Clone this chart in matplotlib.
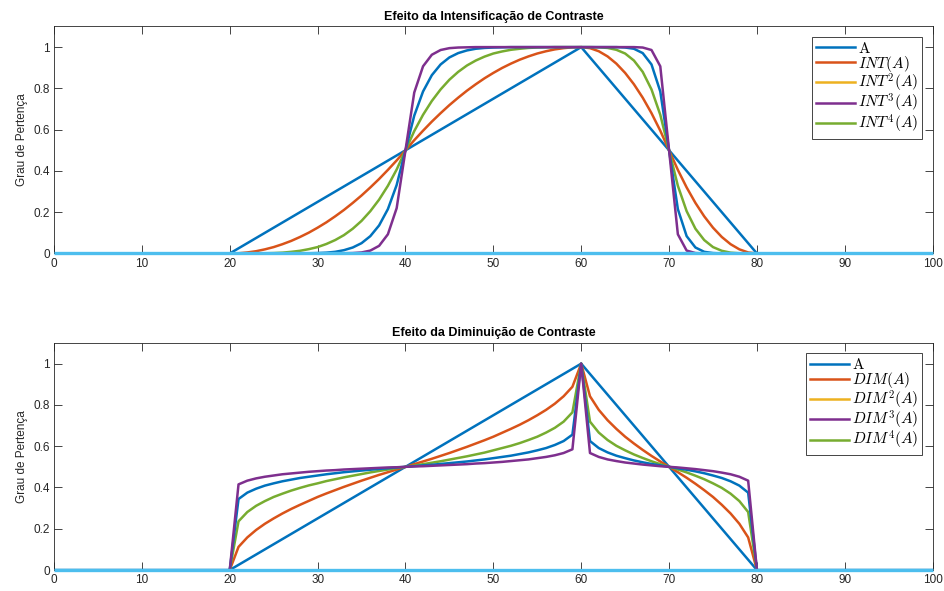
import numpy as np
import matplotlib
matplotlib.use('Agg')
import matplotlib.pyplot as plt
from matplotlib.lines import Line2D

plt.rcParams['font.family'] = ['Liberation Sans', 'DejaVu Sans']
plt.rcParams['mathtext.fontset'] = 'cm'

# fuzzy set A (triangle) as break points, plus the flat zero line over the universe
a_x = [0, 20, 60, 80, 100]
a_y = [0, 0, 1, 0, 0]
base_x = [0, 100]
base_y = [0, 0]

# transformed sets sampled at x = 20, 21, ..., 80
x_first, x_last = 20, 80

int1 = [0.000, 0.001, 0.005, 0.011, 0.020, 0.031, 0.045, 0.061, 0.080, 0.101,
        0.125, 0.151, 0.180, 0.211, 0.245, 0.281, 0.320, 0.361, 0.405, 0.451,
        0.500, 0.549, 0.595, 0.639, 0.680, 0.719, 0.755, 0.789, 0.820, 0.849,
        0.875, 0.899, 0.920, 0.939, 0.955, 0.969, 0.980, 0.989, 0.995, 0.999,
        1.000, 0.995, 0.980, 0.955, 0.920, 0.875, 0.820, 0.755, 0.680, 0.595,
        0.500, 0.405, 0.320, 0.245, 0.180, 0.125, 0.080, 0.045, 0.020, 0.005,
        0.000]
int2 = [0.000, 0.000, 0.000, 0.000, 0.001, 0.002, 0.004, 0.008, 0.013, 0.021,
        0.031, 0.046, 0.065, 0.089, 0.120, 0.158, 0.205, 0.261, 0.328, 0.407,
        0.500, 0.593, 0.672, 0.739, 0.795, 0.842, 0.880, 0.911, 0.935, 0.954,
        0.969, 0.979, 0.987, 0.992, 0.996, 0.998, 0.999, 1.000, 1.000, 1.000,
        1.000, 1.000, 0.999, 0.996, 0.987, 0.969, 0.935, 0.880, 0.795, 0.672,
        0.500, 0.328, 0.205, 0.120, 0.065, 0.031, 0.013, 0.004, 0.001, 0.000,
        0.000]
int3 = [0.000, 0.000, 0.000, 0.000, 0.000, 0.000, 0.000, 0.000, 0.000, 0.001,
        0.002, 0.004, 0.008, 0.016, 0.029, 0.050, 0.084, 0.136, 0.215, 0.332,
        0.500, 0.668, 0.785, 0.864, 0.916, 0.950, 0.971, 0.984, 0.992, 0.996,
        0.998, 0.999, 1.000, 1.000, 1.000, 1.000, 1.000, 1.000, 1.000, 1.000,
        1.000, 1.000, 1.000, 1.000, 1.000, 0.998, 0.992, 0.971, 0.916, 0.785,
        0.500, 0.215, 0.084, 0.029, 0.008, 0.002, 0.000, 0.000, 0.000, 0.000,
        0.000]
int4 = [0.000, 0.000, 0.000, 0.000, 0.000, 0.000, 0.000, 0.000, 0.000, 0.000,
        0.000, 0.000, 0.000, 0.001, 0.002, 0.005, 0.014, 0.037, 0.093, 0.220,
        0.500, 0.780, 0.907, 0.963, 0.986, 0.995, 0.998, 0.999, 1.000, 1.000,
        1.000, 1.000, 1.000, 1.000, 1.000, 1.000, 1.000, 1.000, 1.000, 1.000,
        1.000, 1.000, 1.000, 1.000, 1.000, 1.000, 1.000, 0.998, 0.986, 0.907,
        0.500, 0.093, 0.014, 0.002, 0.000, 0.000, 0.000, 0.000, 0.000, 0.000,
        0.000]

dim1 = [0.000, 0.112, 0.158, 0.194, 0.224, 0.250, 0.274, 0.296, 0.316, 0.335,
        0.354, 0.371, 0.387, 0.403, 0.418, 0.433, 0.447, 0.461, 0.474, 0.487,
        0.500, 0.513, 0.526, 0.539, 0.553, 0.567, 0.582, 0.597, 0.613, 0.629,
        0.646, 0.665, 0.684, 0.704, 0.726, 0.750, 0.776, 0.806, 0.842, 0.888,
        1.000, 0.842, 0.776, 0.726, 0.684, 0.646, 0.613, 0.582, 0.553, 0.526,
        0.500, 0.474, 0.447, 0.418, 0.387, 0.354, 0.316, 0.274, 0.224, 0.158,
        0.000]
dim2 = [0.000, 0.236, 0.281, 0.311, 0.334, 0.354, 0.370, 0.385, 0.398, 0.410,
        0.420, 0.431, 0.440, 0.449, 0.457, 0.465, 0.473, 0.480, 0.487, 0.494,
        0.500, 0.506, 0.513, 0.520, 0.527, 0.535, 0.543, 0.551, 0.560, 0.569,
        0.580, 0.591, 0.602, 0.615, 0.630, 0.646, 0.666, 0.689, 0.719, 0.764,
        1.000, 0.719, 0.666, 0.630, 0.602, 0.580, 0.560, 0.543, 0.527, 0.513,
        0.500, 0.487, 0.473, 0.457, 0.440, 0.420, 0.398, 0.370, 0.334, 0.281,
        0.000]
dim3 = [0.000, 0.344, 0.375, 0.394, 0.409, 0.420, 0.430, 0.438, 0.446, 0.452,
        0.458, 0.464, 0.469, 0.474, 0.478, 0.482, 0.486, 0.490, 0.493, 0.497,
        0.500, 0.503, 0.507, 0.510, 0.514, 0.518, 0.522, 0.526, 0.531, 0.536,
        0.542, 0.548, 0.554, 0.562, 0.570, 0.580, 0.591, 0.606, 0.625, 0.656,
        1.000, 0.625, 0.591, 0.570, 0.554, 0.542, 0.531, 0.522, 0.514, 0.507,
        0.500, 0.493, 0.486, 0.478, 0.469, 0.458, 0.446, 0.430, 0.409, 0.375,
        0.000]
dim4 = [0.000, 0.415, 0.433, 0.444, 0.452, 0.458, 0.464, 0.468, 0.472, 0.476,
        0.479, 0.482, 0.484, 0.487, 0.489, 0.491, 0.493, 0.495, 0.497, 0.498,
        0.500, 0.502, 0.503, 0.505, 0.507, 0.509, 0.511, 0.513, 0.516, 0.518,
        0.521, 0.524, 0.528, 0.532, 0.536, 0.542, 0.548, 0.556, 0.567, 0.585,
        1.000, 0.567, 0.548, 0.536, 0.528, 0.521, 0.516, 0.511, 0.507, 0.503,
        0.500, 0.497, 0.493, 0.489, 0.484, 0.479, 0.472, 0.464, 0.452, 0.433,
        0.000]

int_labels = [r'$\mathrm{A}$', r'$INT(A)$', r'$INT^2(A)$', r'$INT^3(A)$', r'$INT^4(A)$']
dim_labels = [r'$\mathrm{A}$', r'$DIM(A)$', r'$DIM^2(A)$', r'$DIM^3(A)$', r'$DIM^4(A)$']

blue = '#0072BD'
orange = '#D95319'
yellow = '#EDB120'
purple = '#7E2F8E'
green = '#77AC30'
cyan = '#4DBEEE'
axis_col = '#262626'

# colours of the curves as drawn, and of the legend entries
curve_colors = [orange, green, blue, purple]
legend_colors = [blue, orange, yellow, purple, green]


def draw_panel(ax, curves, labels, title):
    """Plot A, its four transforms and the zero line on one axes."""
    xs = np.arange(x_first, x_last + 1)
    ax.plot(a_x, a_y, color=blue, lw=1.8)
    for y, c in zip(curves, curve_colors):
        ax.plot(xs, y, color=c, lw=1.8)
    ax.plot(base_x, base_y, color=cyan, lw=2.4, solid_capstyle='butt',
            clip_on=False, zorder=3)

    ax.set_xlim(0, 100)
    ax.set_ylim(0, 1.1)
    ax.set_xticks(np.arange(0, 101, 10))
    ax.set_yticks([0, 0.2, 0.4, 0.6, 0.8, 1])
    ax.set_yticklabels(['0', '0.2', '0.4', '0.6', '0.8', '1'])
    ax.tick_params(direction='in', top=True, right=True, length=6, width=0.6,
                   colors=axis_col, labelsize=8.5, pad=3)
    for s in ax.spines.values():
        s.set_color(axis_col)
        s.set_linewidth(0.6)
    ax.set_title(title, fontsize=9, fontweight='bold', pad=5, color='black')
    ax.set_ylabel('Grau de Pertença', fontsize=8.5, color=axis_col, labelpad=4)

    handles = [Line2D([], [], color=c, lw=1.8) for c in legend_colors]
    leg = ax.legend(handles, labels, loc='upper right',
                    bbox_to_anchor=(0.9878, 0.9546), borderaxespad=0,
                    fontsize=11, handlelength=2.55, handletextpad=0.2,
                    labelspacing=-0.12, borderpad=0.25, fancybox=False,
                    framealpha=1, edgecolor=axis_col)
    leg.get_frame().set_linewidth(0.6)


fig = plt.figure(figsize=(9.44, 5.91), dpi=100)
ax1 = fig.add_axes([0.0572, 0.5711, 0.9308, 0.3841])
ax2 = fig.add_axes([0.0572, 0.0355, 0.9308, 0.3841])

draw_panel(ax1, [int1, int2, int3, int4], int_labels,
           'Efeito da Intensificação de Contraste')
draw_panel(ax2, [dim1, dim2, dim3, dim4], dim_labels,
           'Efeito da Diminuição de Contraste')

fig.savefig('out.png', dpi=100)
